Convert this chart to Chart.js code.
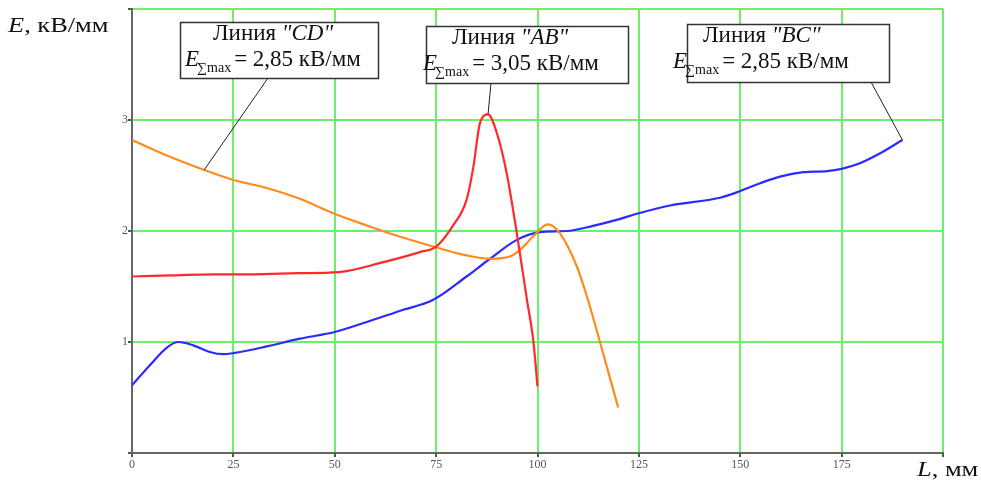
<!DOCTYPE html>
<html lang="ru">
<head>
    <meta charset="UTF-8">
    <title>E(L)</title>
    <script src="https://cdn.jsdelivr.net/npm/chart.js"></script>
    <style>
        body { margin: 0; background: white; }
        #wrap { width: 981px; height: 481px; }
    </style>
</head>
<body>
    <div id="wrap"><canvas id="chart" width="981" height="481"></canvas></div>

    <script>
        // line AB (red)
        const abL = [0, 10, 20, 30, 41, 51, 62, 71, 75, 79, 82.5, 84.2, 85.8, 87.8, 90, 92.4, 94.9, 97.4, 99, 100];
        const abE = [1.59, 1.6, 1.61, 1.61, 1.62, 1.63, 1.72, 1.81, 1.86, 2.04, 2.28, 2.58, 2.97, 3.05, 2.88, 2.52, 1.98, 1.38, 1.0, 0.6];
        // line CD (orange)
        const cdL = [0, 8.6, 17.8, 25, 33, 41.4, 49.6, 57.9, 66, 74.3, 82.5, 88.3, 93.2, 95.7, 98.9, 102.6, 105.5, 109.7, 112.2, 115.4, 119.9];
        const cdE = [2.82, 2.68, 2.55, 2.46, 2.39, 2.29, 2.16, 2.05, 1.95, 1.86, 1.78, 1.75, 1.77, 1.83, 1.95, 2.06, 1.98, 1.68, 1.41, 1.0, 0.41];
        // line BC (blue)
        const bcL = [0, 4.4, 8.6, 11.4, 15.1, 19.2, 22.5, 25, 33.2, 41.4, 50, 57.9, 66, 74.3, 82.5, 88.3, 94.9, 100.6, 107.2, 113, 119.5, 125, 132.7, 145, 150, 154.9, 159.8, 165.5, 171.4, 175, 179.5, 184.5, 190];
        const bcE = [0.61, 0.79, 0.95, 1.0, 0.97, 0.91, 0.89, 0.90, 0.96, 1.03, 1.09, 1.18, 1.28, 1.38, 1.59, 1.75, 1.92, 1.99, 2.0, 2.04, 2.1, 2.16, 2.23, 2.30, 2.36, 2.43, 2.49, 2.53, 2.54, 2.56, 2.61, 2.70, 2.82];

        const xTicks = [0, 25, 50, 75, 100, 125, 150, 175];
        const yTicks = [1, 2, 3];

        // callouts: which dataset/point the leader goes to, and the text
        const callouts = [
            { name: "CD", value: "2,85", ds: 1, idx: 2, box: [180, 22, 198, 56], l1: 33, l2: 5, from: [268, 78] },
            { name: "AB", value: "3,05", ds: 0, idx: 13, box: [426, 26, 202, 57], l1: 26, l2: -3, from: [491, 83] },
            { name: "BC", value: "2,85", ds: 2, idx: 32, box: [687, 24, 202, 58], l1: 16, l2: -14, from: [871, 82] }
        ];

        const pts = (xs, ys) => xs.map((x, i) => ({ x: x, y: ys[i] }));
        const serif = '"Liberation Serif", "DejaVu Serif", serif';

        // italic letter + regular rest, stretched a bit wider like the scan
        function axisTitle(c, letter, rest, x, y) {
            c.save();
            c.translate(x, y);
            c.scale(1.2, 1);
            c.font = "italic 22px " + serif;
            c.fillText(letter, 0, 0);
            const w = c.measureText(letter).width;
            c.font = "22px " + serif;
            c.fillText(rest, w, 0);
            c.restore();
        }

        const annot = {
            id: "annot",
            afterDraw(chart) {
                const c = chart.ctx;
                c.save();
                c.fillStyle = "#111";
                c.textBaseline = "alphabetic";

                axisTitle(c, "E", ", кВ/мм", 8, 32);
                axisTitle(c, "L", ", мм", 917, 476);

                callouts.forEach(co => {
                    const el = chart.getDatasetMeta(co.ds).data[co.idx];
                    // leader
                    c.strokeStyle = "#222";
                    c.lineWidth = 1;
                    c.beginPath();
                    c.moveTo(co.from[0], co.from[1]);
                    c.lineTo(el.x, el.y);
                    c.stroke();
                    // box
                    const [bx, by, bw, bh] = co.box;
                    c.fillStyle = "white";
                    c.fillRect(bx, by, bw, bh);
                    c.strokeStyle = "#333";
                    c.lineWidth = 1.5;
                    c.strokeRect(bx + 0.5, by + 0.5, bw, bh);
                    c.fillStyle = "#111";

                    let x = bx + co.l1;
                    c.font = "23px " + serif;
                    c.fillText("Линия ", x, by + 18);
                    x += c.measureText("Линия ").width;
                    c.font = "italic 23px " + serif;
                    c.fillText('"' + co.name + '"', x, by + 18);

                    x = bx + co.l2;
                    c.font = "italic 23px " + serif;
                    c.fillText("E", x, by + 44);
                    x += c.measureText("E").width - 2;
                    c.font = "14px " + serif;
                    c.fillText("∑max", x, by + 50);
                    x += c.measureText("∑max").width + 3;
                    c.font = "23px " + serif;
                    c.fillText("= " + co.value + " кВ/мм", x, by + 44);
                });
                c.restore();
            }
        };

        const tickFont = { size: 12, family: '"Liberation Serif", serif' };

        const ctx = document.getElementById("chart").getContext("2d");
        new Chart(ctx, {
            type: "line",
            data: {
                datasets: [
                    { label: "AB", data: pts(abL, abE), borderColor: "#ff2a2a", borderWidth: 2.2, pointRadius: 0, cubicInterpolationMode: "monotone", fill: false },
                    { label: "CD", data: pts(cdL, cdE), borderColor: "#ff8a1e", borderWidth: 2.2, pointRadius: 0, cubicInterpolationMode: "monotone", fill: false },
                    { label: "BC", data: pts(bcL, bcE), borderColor: "#2b2bff", borderWidth: 2.2, pointRadius: 0, cubicInterpolationMode: "monotone", fill: false }
                ]
            },
            options: {
                responsive: false,
                animation: false,
                devicePixelRatio: 1,
                layout: { padding: { top: 9, right: 38, left: 0, bottom: 0 } },
                plugins: { legend: { display: false }, tooltip: { enabled: false } },
                scales: {
                    x: {
                        type: "linear",
                        min: 0,
                        max: 200,
                        afterFit: s => { s.height = 28; },
                        afterBuildTicks: s => { s.ticks = xTicks.concat([200]).map(v => ({ value: v })); },
                        ticks: {
                            callback: v => xTicks.includes(v) ? v : "",
                            font: tickFont,
                            color: "#555",
                            padding: 1,
                            maxRotation: 0
                        },
                        grid: { color: "#6cf06c", lineWidth: 2, tickLength: 4, tickColor: "#555" },
                        border: { color: "#666", width: 2 }
                    },
                    y: {
                        min: 0,
                        max: 4,
                        afterFit: s => { s.width = 132; },
                        afterBuildTicks: s => { s.ticks = [0].concat(yTicks, [4]).map(v => ({ value: v })); },
                        ticks: {
                            callback: v => yTicks.includes(v) ? v : "",
                            font: tickFont,
                            color: "#555",
                            padding: 0
                        },
                        grid: { color: "#6cf06c", lineWidth: 2, tickLength: 4, tickColor: "#555" },
                        border: { color: "#666", width: 2 }
                    }
                }
            },
            plugins: [annot]
        });
    </script>
</body>
</html>
